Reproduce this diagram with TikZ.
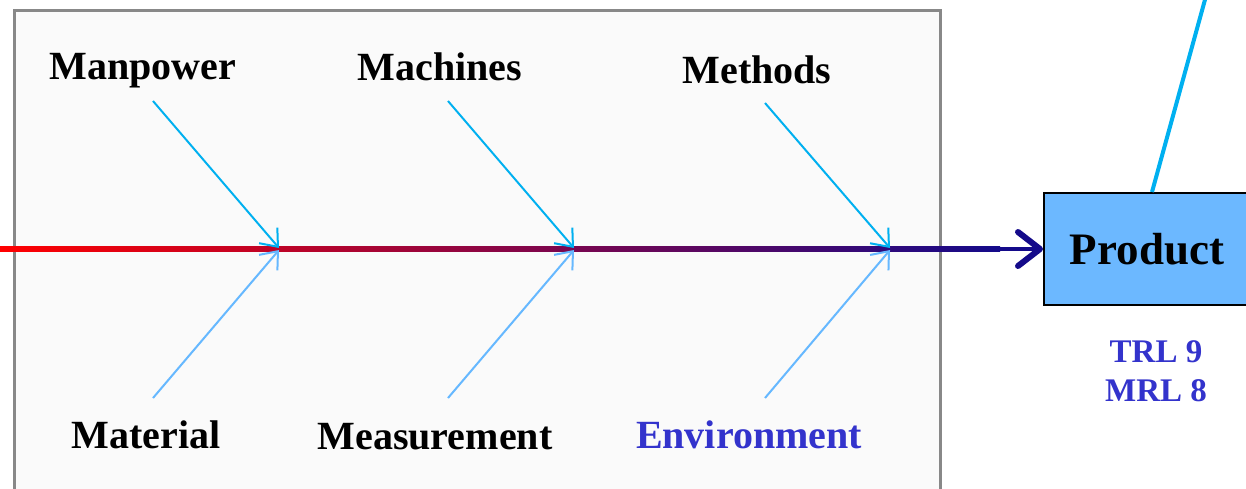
\documentclass[tikz,border=0pt]{standalone}
\usepackage{fontspec}
\setmainfont{Liberation Serif}
\usetikzlibrary{arrows.meta}
\definecolor{spineend}{HTML}{140A8A}
\definecolor{ribup}{HTML}{00B0F0}
\definecolor{ribdown}{HTML}{66B8FF}
\definecolor{boxfill}{HTML}{FAFAFA}
\definecolor{boxline}{HTML}{888888}
\definecolor{prodfill}{HTML}{6CB8FF}
\definecolor{envblue}{HTML}{3333CC}
\tikzset{
  lab/.style={font=\bfseries\fontsize{20pt}{24pt}\selectfont, text=black, inner sep=0pt},
  envlab/.style={lab, text=envblue},
  ribarrow/.style={line width=1pt, -{Straight Barb[length=7.5pt,width=12pt]}},
  upper/.style={ribarrow, draw=ribup},
  lower/.style={ribarrow, draw=ribdown},
  prodbox/.style={draw=black, line width=1pt, fill=prodfill, minimum width=103pt, minimum height=56pt,
    font=\bfseries\fontsize{22.5pt}{26pt}\selectfont, inner sep=0pt},
  trl/.style={font=\bfseries\fontsize{16.5pt}{19.5pt}\selectfont, text=envblue, align=center, inner sep=0pt}
}
\begin{document}
\begin{tikzpicture}[x=0.5pt,y=-0.5pt]
\useasboundingbox (0,0) rectangle (1246,488);
\clip (0,0) rectangle (1246,488);
% frame
\draw[draw=boxline, line width=1.5pt, fill=boxfill] (14,10) rectangle (940,520);
% spine
\fill[left color=red, right color=spineend] (0,246.8) rectangle (1000,251.2);
\node[prodbox] (prod) at (1147,249) {Product};
\coordinate (spinemid) at (990,249);
\draw[spineend, line width=2.2pt, -{Straight Barb[length=11pt,width=17pt,line width=3pt,round]}] (spinemid) -- (prod.west);
\coordinate (topend) at (1206,-4);
\draw[ribup, line width=2pt] ([xshift=2.5pt]prod.north) -- (topend);
\node[trl] (trl) at (1156,371) {TRL 9\\MRL 8};
% labels
\node[lab] (manpower) at (143,71) {Manpower};
\node[lab] (machines) at (440,67) {Machines};
\node[lab] (methods) at (757,70) {Methods};
\node[lab] (material) at (146,435) {Material};
\node[lab] (measurement) at (435,437) {Measurement};
\node[envlab] (environment) at (749,435) {Environment};
% rib coordinates
\coordinate (u1) at (153,101); \coordinate (ju1) at (279,248);
\coordinate (u2) at (448,101); \coordinate (ju2) at (574,248);
\coordinate (u3) at (765,103); \coordinate (ju3) at (890,248);
\coordinate (d1) at (153,398); \coordinate (jd1) at (279,250);
\coordinate (d2) at (448,398); \coordinate (jd2) at (574,250);
\coordinate (d3) at (765,398); \coordinate (jd3) at (890,250);
\draw[upper] (u1) -- (ju1);
\draw[upper] (u2) -- (ju2);
\draw[upper] (u3) -- (ju3);
\draw[lower] (d1) -- (jd1);
\draw[lower] (d2) -- (jd2);
\draw[lower] (d3) -- (jd3);
\end{tikzpicture}
\end{document}
